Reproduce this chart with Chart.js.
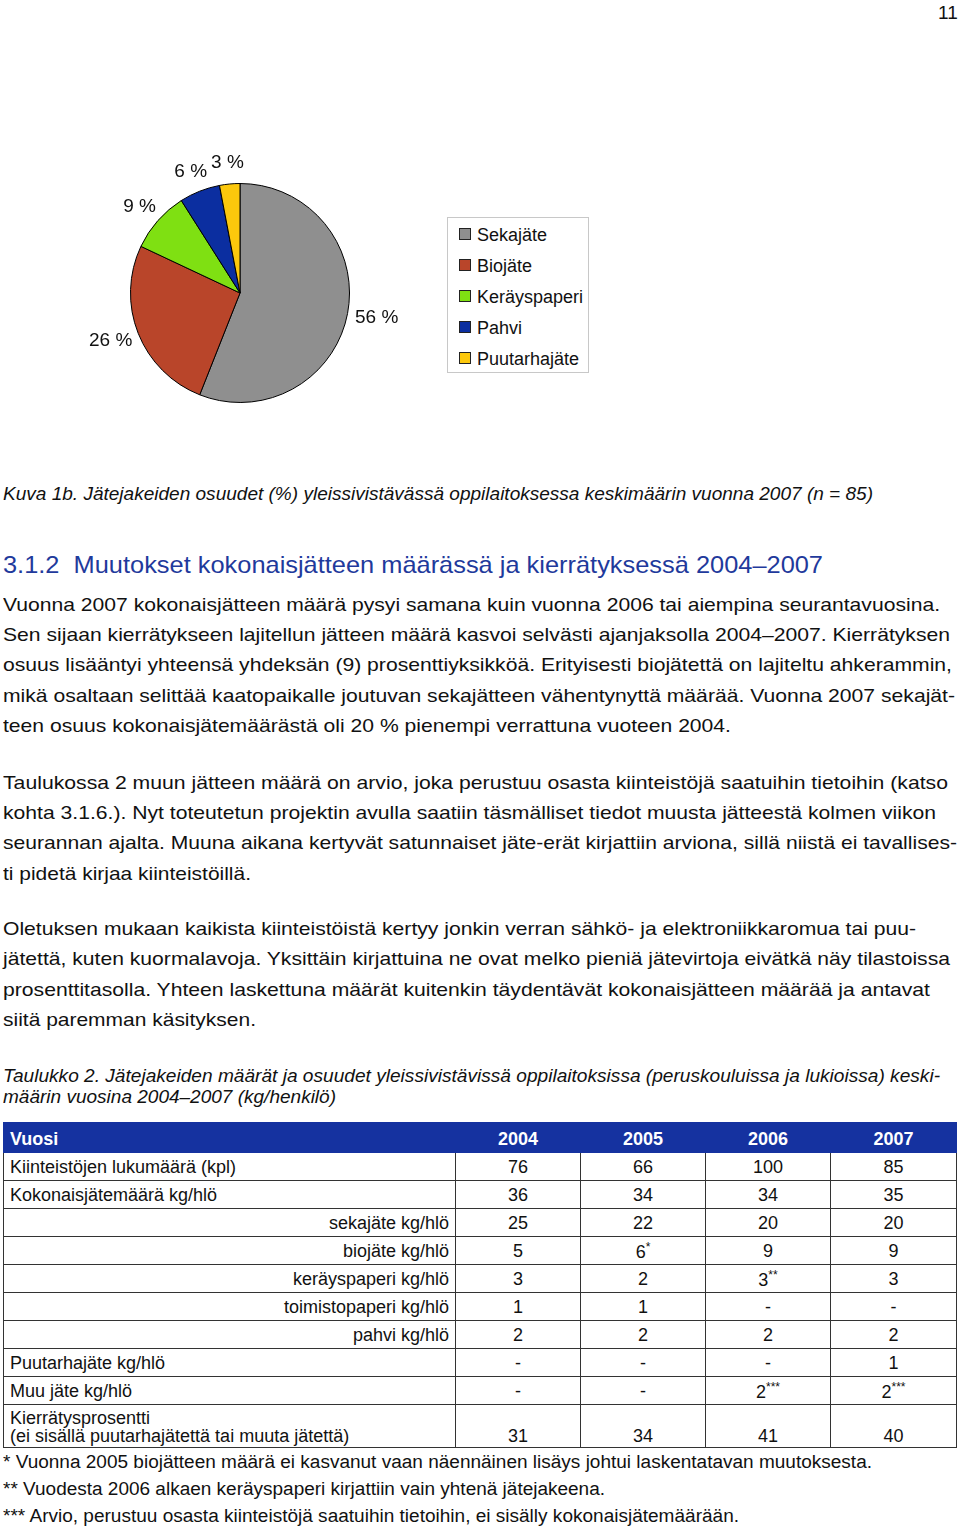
<!DOCTYPE html>
<html><head><meta charset="utf-8">
<script src="https://cdn.jsdelivr.net/npm/chart.js@4/dist/chart.umd.min.js"></script>
<style>
html,body{margin:0;padding:0;background:#fff;}
body{width:960px;height:1528px;position:relative;overflow:hidden;font-family:"Liberation Sans",Arial,sans-serif;color:#111;}
.t{position:absolute;left:3px;white-space:nowrap;transform-origin:0 50%;line-height:1;}
.b{font-size:19px;}
.i{font-style:italic;font-size:18px;}
#pie{position:absolute;left:60px;top:143px;width:360px;height:300px;}
#legend{position:absolute;left:447px;top:217px;width:142px;height:156px;border:1px solid #c8c8c8;box-sizing:border-box;}
.li{position:absolute;left:11px;font-size:18px;line-height:1;white-space:nowrap;}
.li span.sw{display:inline-block;width:10px;height:10px;border:1px solid #222;margin-right:6px;vertical-align:1px;}
table{position:absolute;left:3px;top:1122px;width:953px;border-collapse:collapse;font-size:18px;table-layout:fixed;}
td{border:1px solid #333;padding:0 6px;height:27px;line-height:1;}
td.n{text-align:center;}
td.r{text-align:right;}
tr.h td{background:#1532a0;color:#fff;font-weight:bold;border-color:#1532a0;height:27px;padding-top:2px;}
</style></head>
<body>
<div class="t b" style="left:938px;top:3px;">11</div>
<div id="pie"><canvas id="c"></canvas></div>
<div id="legend"></div>
<div id="texts"></div>
<table id="tbl"></table>
<script>
// ---- data ----
const categories = ["Sekajäte","Biojäte","Keräyspaperi","Pahvi","Puutarhajäte"];
const shares = [56, 26, 9, 6, 3];
const colors = ["#8f8f8f","#b9452a","#7fe012","#0b2ea0","#fcc80c"];

const years = ["2004","2005","2006","2007"];
const rowLabels = ["Kiinteistöjen lukumäärä (kpl)","Kokonaisjätemäärä kg/hlö","sekajäte kg/hlö","biojäte kg/hlö","keräyspaperi kg/hlö","toimistopaperi kg/hlö","pahvi kg/hlö","Puutarhajäte kg/hlö","Muu jäte kg/hlö","Kierrätysprosentti<br>(ei sisällä puutarhajätettä tai muuta jätettä)"];
const rowAlign = ["l","l","r","r","r","r","r","l","l","l"];
const v2004 = ["76","36","25","5","3","1","2","-","-","31"];
const v2005 = ["66","34","22","6*","2","1","2","-","-","34"];
const v2006 = ["100","34","20","9","3**","-","2","-","2***","41"];
const v2007 = ["85","35","20","9","3","-","2","1","2***","40"];

// ---- text lines: [class, top, targetWidth, text] ----
const lines = [
 ["i",485,870,"Kuva 1b. Jätejakeiden osuudet (%) yleissivistävässä oppilaitoksessa keskimäärin vuonna 2007 (n = 85)"],
 ["h",553,820,"3.1.2&nbsp;&nbsp;Muutokset kokonaisjätteen määrässä ja kierrätyksessä 2004–2007"],
 ["b",595,937,"Vuonna 2007 kokonaisjätteen määrä pysyi samana kuin vuonna 2006 tai aiempina seurantavuosina."],
 ["b",625,947,"Sen sijaan kierrätykseen lajitellun jätteen määrä kasvoi selvästi ajanjaksolla 2004–2007. Kierrätyksen"],
 ["b",655,949,"osuus lisääntyi yhteensä yhdeksän (9) prosenttiyksikköä. Erityisesti biojätettä on lajiteltu ahkerammin,"],
 ["b",686,952,"mikä osaltaan selittää kaatopaikalle joutuvan sekajätteen vähentynyttä määrää. Vuonna 2007 sekajät-"],
 ["b",716,728,"teen osuus kokonaisjätemäärästä oli 20 % pienempi verrattuna vuoteen 2004."],
 ["b",773,945,"Taulukossa 2 muun jätteen määrä on arvio, joka perustuu osasta kiinteistöjä saatuihin tietoihin (katso"],
 ["b",803,933,"kohta 3.1.6.). Nyt toteutetun projektin avulla saatiin täsmälliset tiedot muusta jätteestä kolmen viikon"],
 ["b",833,954,"seurannan ajalta. Muuna aikana kertyvät satunnaiset jäte-erät kirjattiin arviona, sillä niistä ei tavallises-"],
 ["b",864,248,"ti pidetä kirjaa kiinteistöillä."],
 ["b",919,913,"Oletuksen mukaan kaikista kiinteistöistä kertyy jonkin verran sähkö- ja elektroniikkaromua tai puu-"],
 ["b",949,947,"jätettä, kuten kuormalavoja. Yksittäin kirjattuina ne ovat melko pieniä jätevirtoja eivätkä näy tilastoissa"],
 ["b",980,927,"prosenttitasolla. Yhteen laskettuna määrät kuitenkin täydentävät kokonaisjätteen määrää ja antavat"],
 ["b",1010,253,"siitä paremman käsityksen."],
 ["i",1067,937,"Taulukko 2. Jätejakeiden määrät ja osuudet yleissivistävissä oppilaitoksissa (peruskouluissa ja lukioissa) keski-"],
 ["i",1088,333,"määrin vuosina 2004–2007 (kg/henkilö)"],
 ["f",1453,869,"* Vuonna 2005 biojätteen määrä ei kasvanut vaan näennäinen lisäys johtui laskentatavan muutoksesta."],
 ["f",1480,602,"** Vuodesta 2006 alkaen keräyspaperi kirjattiin vain yhtenä jätejakeena."],
 ["f",1507,736,"*** Arvio, perustuu osasta kiinteistöjä saatuihin tietoihin, ei sisälly kokonaisjätemäärään."]
];
const tc = document.getElementById('texts');
lines.forEach(l=>{
  const d=document.createElement('div');
  d.className='t '+(l[0]==='h'?'':(l[0]==='f'?'b':l[0]));
  if(l[0]==='h'){d.style.fontSize='24px';d.style.color='#1f3a9c';}
  if(l[0]==='f'){d.style.fontSize='18px';}
  d.style.top=l[1]+'px';
  d.innerHTML=l[3];
  tc.appendChild(d);
  const w=d.getBoundingClientRect().width;
  d.style.transform='scaleX('+(l[2]/w)+')';
});

// ---- legend ----
const lg=document.getElementById('legend');
categories.forEach((c,i)=>{
  const d=document.createElement('div');d.className='li';
  d.style.top=(8+i*31)+'px';
  d.innerHTML='<span class="sw" style="background:'+colors[i]+'"></span>'+c;
  lg.appendChild(d);
});

// ---- table ----
const tbl=document.getElementById('tbl');
let html='<colgroup><col style="width:452px"><col style="width:125px"><col style="width:125px"><col style="width:125px"><col style="width:126px"></colgroup>';
html+='<tr class="h"><td>Vuosi</td>'+years.map(y=>'<td class="n">'+y+'</td>').join('')+'</tr>';
rowLabels.forEach((r,i)=>{
  const last=i===rowLabels.length-1;
  const va=last?'vertical-align:bottom;padding-bottom:2px;height:40px;':'';
  html+='<tr><td class="'+(rowAlign[i]==='r'?'r':'')+'" style="'+va+'">'+r+'</td>'+
   [v2004[i],v2005[i],v2006[i],v2007[i]].map(v=>'<td class="n" style="'+va+'">'+v.replace(/(\*+)/,'<sup style="font-size:12px">$1</sup>')+'</td>').join('')+'</tr>';
});
tbl.innerHTML=html;

// ---- pie ----
const labelPlugin={id:'pctLabels',afterDatasetsDraw(chart){
  const ctx=chart.ctx;const meta=chart.getDatasetMeta(0);
  ctx.save();ctx.font='19px "Liberation Sans", Arial, sans-serif';ctx.fillStyle='#111';
  ctx.textAlign='center';ctx.textBaseline='middle';
  meta.data.forEach((arc,i)=>{
    const p=arc.getProps(['x','y','startAngle','endAngle','outerRadius'],true);
    const a=(p.startAngle+p.endAngle)/2;
    const txt=shares[i]+' %';
    const w=ctx.measureText(txt).width, h=26;
    const r=p.outerRadius+8;
    const cx=p.x+r*Math.cos(a)+w/2*Math.cos(a);
    const cy=p.y+r*Math.sin(a)+h/2*Math.sin(a);
    ctx.fillText(txt,cx,cy);
  });
  ctx.restore();
}};
new Chart(document.getElementById('c'),{
  type:'pie',
  data:{labels:categories,datasets:[{data:shares,backgroundColor:colors,borderColor:'#000',borderWidth:1}]},
  options:{responsive:true,maintainAspectRatio:false,animation:false,
    layout:{padding:{top:40,bottom:40,left:70,right:70}},
    plugins:{legend:{display:false},tooltip:{enabled:false}}},
  plugins:[labelPlugin]
});
</script>
</body></html>
